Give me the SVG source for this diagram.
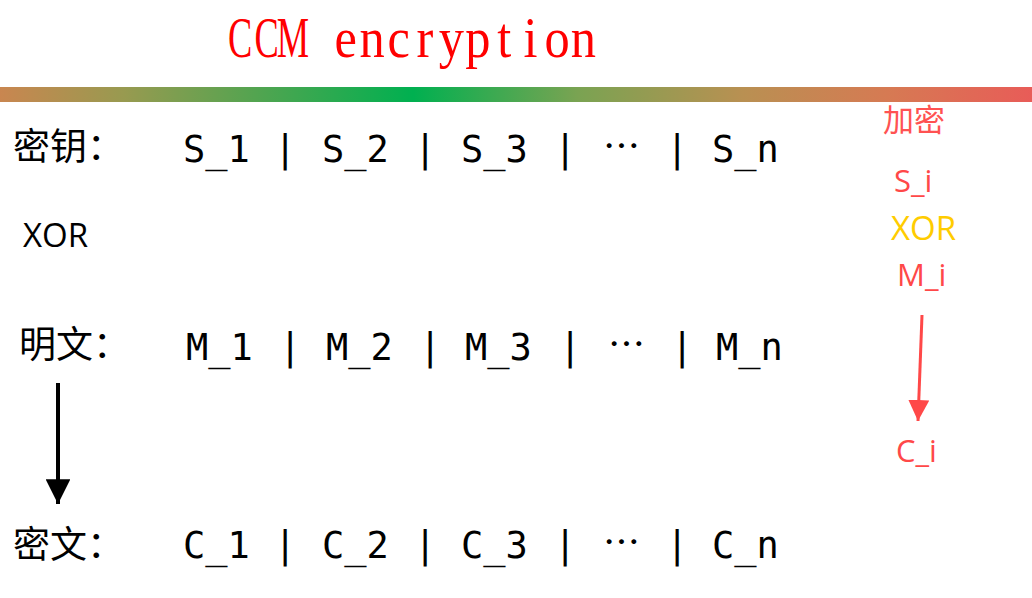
<svg xmlns="http://www.w3.org/2000/svg" width="1032" height="598" viewBox="0 0 1032 598">
<defs>
<linearGradient id="bar" x1="0" y1="0" x2="1" y2="0">
<stop offset="0" stop-color="#c98650"/>
<stop offset="0.12" stop-color="#989a50"/>
<stop offset="0.4" stop-color="#00b050"/>
<stop offset="0.56" stop-color="#7aa352"/>
<stop offset="0.72" stop-color="#b99052"/>
<stop offset="0.86" stop-color="#d67a53"/>
<stop offset="1" stop-color="#e85c58"/>
</linearGradient>
<marker id="ahBlack" viewBox="0 0 10 10" refX="10" refY="5" markerWidth="6.2" markerHeight="6.2" markerUnits="strokeWidth" orient="auto">
<path d="M0,0 L10,5 L0,10 Z" fill="#000"/>
</marker>
<marker id="ahRed" viewBox="0 0 10 10" refX="10" refY="5" markerWidth="7" markerHeight="7" markerUnits="strokeWidth" orient="auto">
<path d="M0,0 L10,5 L0,10 Z" fill="#ff4848"/>
</marker>
</defs>
<style>
.mono{font-family:"DejaVu Sans Mono","Liberation Mono",monospace;font-size:37px;fill:#000}
.ell{font-family:"Noto Sans CJK SC",sans-serif;font-size:37px;fill:#000}
.cjk{font-family:"Noto Sans CJK SC","Noto Sans",sans-serif;font-size:37px;fill:#000}
.side{font-family:"Open Sans","Noto Sans CJK SC",sans-serif;font-size:31px}
.ttl{font-family:"Liberation Serif",serif;font-size:56px;fill:#ff0000}
</style>
<rect width="1032" height="598" fill="#fff"/>
<g id="title">
<text class="ttl" transform="translate(227,57) scale(0.65,1)" y="0" x="20.3 60.9 101.5" text-anchor="middle">CCM</text>
<text class="ttl" transform="translate(332.6,57) scale(0.9,1)" y="0" x="14.67 44 73.33 102.67 132 161.33 190.67 220 249.33 278.67" text-anchor="middle">encryption</text>
</g>
<rect id="bar-line" x="0" y="87" width="1032" height="15" fill="url(#bar)"/>
<g id="row-key">
<text class="cjk" x="13" y="160">密钥：</text>
<text class="mono" x="183" y="162">S_1</text>
<text class="mono" x="274" y="162">|</text>
<text class="mono" x="322" y="162">S_2</text>
<text class="mono" x="414" y="162">|</text>
<text class="mono" x="461" y="162">S_3</text>
<text class="mono" x="554" y="162">|</text>
<text class="ell" x="603" y="160">…</text>
<text class="mono" x="666" y="162">|</text>
<text class="mono" x="712" y="162">S_n</text>
</g>
<g id="xor-label">
<text x="23" y="247" font-family="'Open Sans',sans-serif" font-size="33" fill="#000">XOR</text>
</g>
<g id="row-plain">
<text class="cjk" x="19" y="358">明文：</text>
<text class="mono" x="186" y="360">M_1</text>
<text class="mono" x="279" y="360">|</text>
<text class="mono" x="326" y="360">M_2</text>
<text class="mono" x="419" y="360">|</text>
<text class="mono" x="465" y="360">M_3</text>
<text class="mono" x="559" y="360">|</text>
<text class="ell" x="608" y="358">…</text>
<text class="mono" x="671" y="360">|</text>
<text class="mono" x="716" y="360">M_n</text>
</g>
<g id="row-cipher">
<text class="cjk" x="13" y="558">密文：</text>
<text class="mono" x="183" y="558">C_1</text>
<text class="mono" x="274" y="558">|</text>
<text class="mono" x="322" y="558">C_2</text>
<text class="mono" x="414" y="558">|</text>
<text class="mono" x="461" y="558">C_3</text>
<text class="mono" x="554" y="558">|</text>
<text class="ell" x="603" y="556">…</text>
<text class="mono" x="666" y="558">|</text>
<text class="mono" x="712" y="558">C_n</text>
</g>
<g id="legend">
<text class="side" x="883" y="131" fill="#ff5252" font-family="'Noto Sans CJK SC',sans-serif">加密</text>
<text class="side" x="894" y="192" fill="#ff4848">S_i</text>
<text x="891" y="240" fill="#ffcc00" font-family="'Open Sans',sans-serif" font-size="33">XOR</text>
<text class="side" x="897" y="286" fill="#ff4848">M_i</text>
<text class="side" x="896" y="462" fill="#ff4848">C_i</text>
</g>
<g id="connectors">
<line x1="58" y1="383" x2="58" y2="504" stroke="#000" stroke-width="4" marker-end="url(#ahBlack)"/>
<line x1="922" y1="315" x2="918" y2="421" stroke="#ff4848" stroke-width="3" marker-end="url(#ahRed)"/>
</g>
</svg>
